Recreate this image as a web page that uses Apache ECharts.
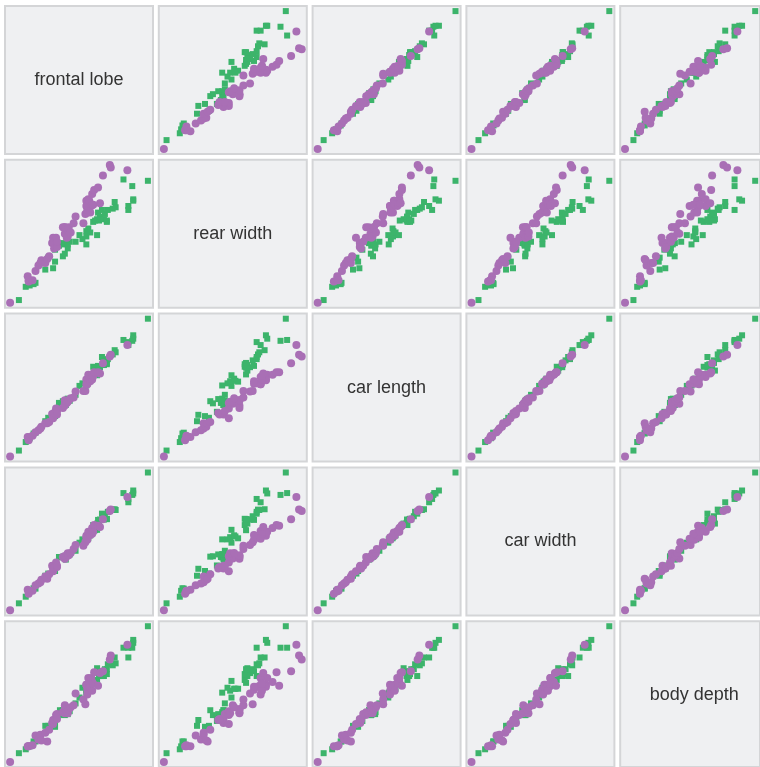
<!DOCTYPE html>
<html>
<head>
<meta charset="utf-8">
<script src="https://cdn.jsdelivr.net/npm/echarts@6/dist/echarts.min.js"></script>
<style>
html,body{margin:0;padding:0;background:#fff;}
#chart{width:760px;height:767px;}
</style>
</head>
<body>
<div id="chart"></div>
<script>
// Variable names (diagonal labels)
var varNames = ['frontal lobe', 'rear width', 'car length', 'car width', 'body depth'];

// Males (green squares)
var maleFL = [8.1,8.8,9.2,9.6,9.8,10.8,11.1,11.6,11.8,11.8,12.2,12.3,12.6,12.8,12.8,12.9,13.1,13.1,13.3,13.9,14.3,14.6,15.0,15.0,15.0,15.2,15.4,15.7,15.9,16.1,16.1,16.2,16.3,16.4,16.6,16.8,16.9,17.1,17.1,17.2,17.7,17.9,18.0,18.8,19.3,19.3,19.7,19.8,19.8,21.3];
var maleRW = [6.7,7.7,7.8,7.9,8.0,9.0,9.9,9.1,9.6,10.5,10.8,11.0,10.0,10.2,10.9,11.0,10.6,10.9,11.1,11.1,11.6,11.3,10.9,11.5,11.9,12.1,11.8,12.6,12.7,11.6,12.8,13.3,12.7,13.0,13.5,12.8,13.2,12.6,12.7,13.5,13.6,14.1,13.7,15.8,13.5,13.8,15.3,14.2,14.3,15.7];
var maleCL = [16.1,18.1,19.0,20.1,20.3,23.0,23.8,24.5,24.2,25.2,27.3,26.8,27.7,27.2,27.4,26.8,28.2,28.3,27.8,29.2,31.3,31.9,31.4,32.4,32.5,32.3,33.0,35.8,34.0,33.8,34.9,36.0,35.6,35.7,38.1,36.2,37.3,36.4,36.7,37.6,38.7,39.7,39.2,42.1,41.6,40.9,41.9,43.2,42.4,47.1];
var maleCW = [19.0,20.8,22.4,23.1,23.0,26.5,27.1,28.4,27.8,29.3,31.6,31.5,31.7,31.8,31.5,30.9,32.3,32.4,32.3,33.3,35.5,36.4,36.4,37.0,37.2,36.7,37.5,40.3,38.9,39.0,40.7,41.7,40.9,41.8,43.4,41.8,42.7,42.0,41.9,43.9,44.5,44.6,44.4,49.0,47.4,46.5,48.5,49.7,48.9,54.6];
var maleBD = [7.0,7.4,7.7,8.2,8.2,9.8,9.8,10.4,9.7,10.3,10.9,11.4,11.4,10.9,11.0,11.4,11.0,11.2,11.3,12.1,12.7,13.7,13.2,13.4,13.6,13.6,13.6,14.5,14.2,14.4,15.7,15.4,14.9,15.2,14.9,14.9,15.6,15.1,15.6,16.1,16.0,16.8,16.2,17.8,17.8,16.8,17.8,18.6,18.3,20.0];

// Females (purple circles)
var femaleFL = [7.2,9.0,9.1,9.1,9.5,9.8,10.1,10.3,10.4,10.8,11.0,11.2,11.5,11.6,11.6,11.7,11.9,12.0,12.0,12.6,12.8,12.8,12.8,13.0,13.1,13.2,13.4,13.7,13.9,14.7,14.9,15.0,15.0,15.1,15.1,15.1,15.2,15.3,15.4,15.5,15.6,15.6,15.7,15.8,16.2,16.4,16.7,17.4,17.5,19.2];
var femaleRW = [6.5,8.5,8.1,8.2,8.2,8.9,9.3,9.5,9.7,9.5,9.8,10.0,11.0,11.0,11.4,10.6,11.4,10.7,11.1,12.2,11.7,12.2,12.2,11.4,11.5,12.2,11.8,12.5,13.0,12.5,13.2,13.8,14.2,13.3,13.5,13.8,14.3,14.2,13.3,13.8,13.9,14.7,13.9,15.0,15.2,14.0,16.1,16.9,16.7,16.5];
var femaleCL = [14.7,19.3,18.5,19.2,19.6,20.4,20.9,21.3,21.7,22.5,22.5,22.8,24.7,24.6,23.7,24.9,26.0,24.6,25.4,26.1,27.1,26.7,27.9,27.3,27.6,27.9,28.4,28.6,30.0,30.1,30.1,31.7,32.8,31.8,31.9,31.7,33.9,32.6,32.4,33.4,32.8,33.9,33.6,34.5,34.5,34.2,36.6,38.2,38.6,40.9];
var femaleCW = [17.1,22.7,21.6,22.2,22.4,23.9,24.4,24.7,25.4,26.3,25.7,26.9,29.2,28.5,27.7,28.5,30.1,28.9,29.2,31.6,31.2,31.1,31.9,31.8,32.6,32.1,32.7,33.8,34.9,34.7,35.6,36.9,37.4,36.3,37.0,36.6,38.5,38.3,37.6,38.7,37.9,39.5,38.5,40.3,40.1,39.8,41.9,44.1,44.5,47.9];
var femaleBD = [6.1,7.7,7.7,7.7,7.8,8.8,8.4,8.9,8.3,9.1,8.2,9.4,10.1,10.4,10.0,10.4,10.9,10.5,11.0,11.2,11.9,11.1,11.5,11.3,11.1,11.5,11.7,11.9,13.1,12.5,12.0,14.0,14.0,13.5,13.8,13.0,14.7,13.8,13.8,14.7,13.4,14.3,14.1,15.3,13.9,15.2,15.4,16.6,17.0,18.1];

(function () {
  var maleVars = [maleFL, maleRW, maleCL, maleCW, maleBD];
  var femaleVars = [femaleFL, femaleRW, femaleCL, femaleCW, femaleBD];

  var N = 5;
  var PITCH = 153.8;
  var CELL = 148;
  var X0 = 5, Y0 = 6;
  var PADF = 0.037;

  // axis extents from the data (with a small inset)
  var ext = [];
  for (var k = 0; k < N; k++) {
    var all = maleVars[k].concat(femaleVars[k]);
    var mn = Math.min.apply(null, all), mx = Math.max.apply(null, all);
    var p = (mx - mn) * PADF;
    ext.push([mn - p, mx + p]);
  }

  function pairs(xs, ys) {
    var out = [];
    for (var i = 0; i < xs.length; i++) out.push([xs[i], ys[i]]);
    return out;
  }

  var grids = [], xAxes = [], yAxes = [], series = [], graphics = [];
  var idx = 0;
  for (var r = 0; r < N; r++) {
    for (var c = 0; c < N; c++) {
      var gx = X0 + c * PITCH, gy = Y0 + r * PITCH;
      grids.push({
        left: gx, top: gy, width: CELL, height: CELL,
        show: true, backgroundColor: '#eff0f2', borderColor: '#d4d5d7', borderWidth: 2
      });
      xAxes.push({ gridIndex: idx, type: 'value', show: false, min: ext[c][0], max: ext[c][1] });
      yAxes.push({ gridIndex: idx, type: 'value', show: false, min: ext[r][0], max: ext[r][1] });
      if (r === c) {
        graphics.push({
          type: 'text',
          x: gx + CELL / 2, y: gy + CELL / 2,
          style: {
            text: varNames[r], fill: '#333333',
            fontSize: 18, fontFamily: '"Liberation Sans", Arial, sans-serif',
            align: 'center', verticalAlign: 'middle'
          },
          z: 10
        });
      } else {
        series.push({
          type: 'scatter', xAxisIndex: idx, yAxisIndex: idx,
          symbol: 'rect', symbolSize: 6,
          itemStyle: { color: '#3cb46b', opacity: 1 },
          data: pairs(maleVars[c], maleVars[r]), z: 2
        });
        series.push({
          type: 'scatter', xAxisIndex: idx, yAxisIndex: idx,
          symbol: 'circle', symbolSize: 8,
          itemStyle: { color: '#a96fb5', opacity: 1 },
          data: pairs(femaleVars[c], femaleVars[r]), z: 3
        });
      }
      idx++;
    }
  }

  var chart = echarts.init(document.getElementById('chart'), null, { renderer: 'canvas' });
  chart.setOption({
    animation: false,
    backgroundColor: '#ffffff',
    grid: grids,
    xAxis: xAxes,
    yAxis: yAxes,
    series: series,
    graphic: { elements: graphics }
  });
})();
</script>
</body>
</html>
